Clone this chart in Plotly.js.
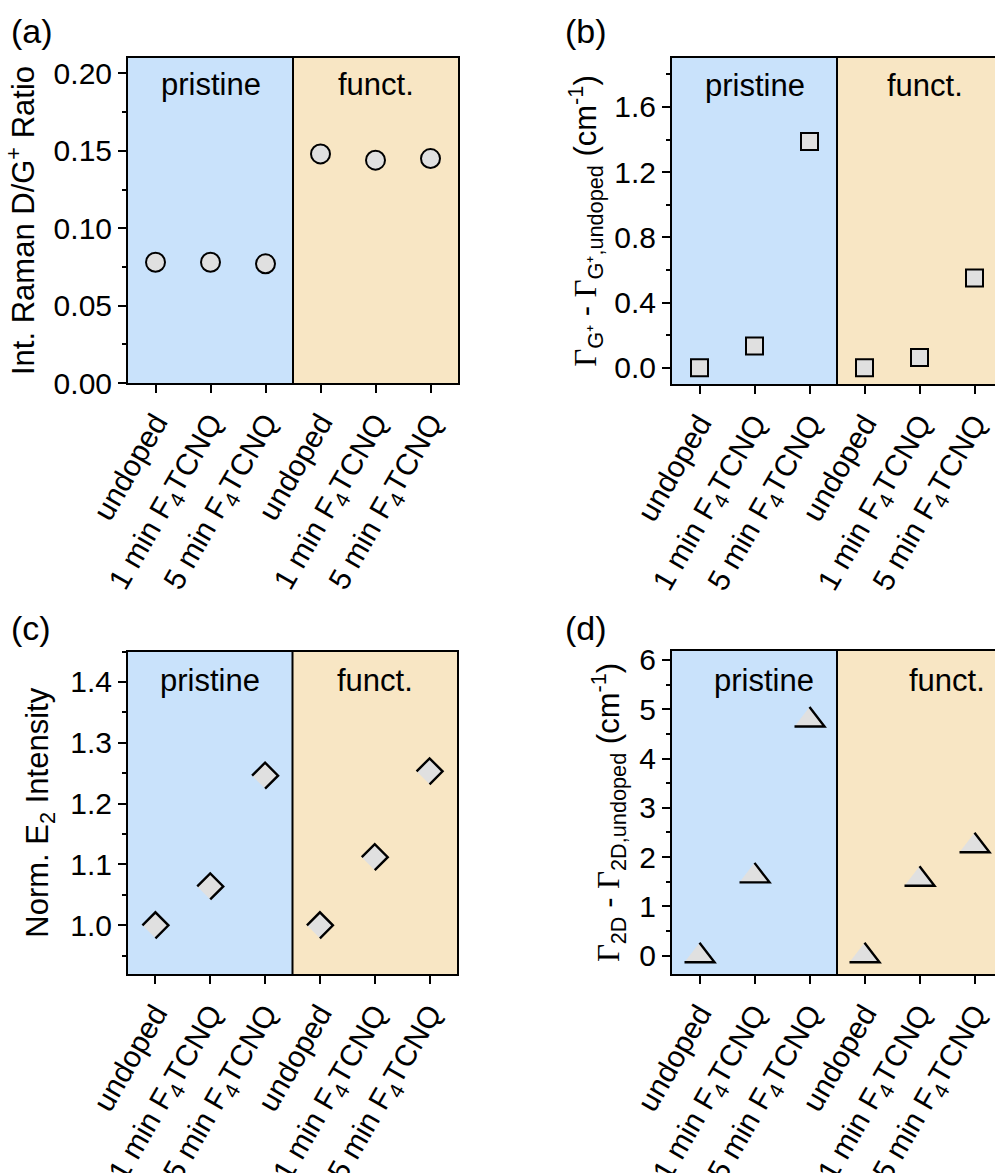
<!DOCTYPE html>
<html>
<head>
<meta charset="utf-8">
<script src="https://cdn.plot.ly/plotly-3.0.1.min.js"></script>
<style>
html,body{margin:0;padding:0;overflow:hidden;background:#fff;}
#chart{width:1010px;height:1173px;}
</style>
</head>
<body>
<div id="chart"></div>
<script>
// ---- data ----
const xIndex = [0, 1, 2, 3, 4, 5];
const tickLabels = ['undoped', '1 min F<sub>4</sub>TCNQ', '5 min F<sub>4</sub>TCNQ',
                    'undoped', '1 min F<sub>4</sub>TCNQ', '5 min F<sub>4</sub>TCNQ'];
const groupLabels = ['pristine', 'funct.'];
const ratioDG = [0.078, 0.078, 0.077, 0.148, 0.144, 0.145];
const deltaGammaG = [0.0, 0.133, 1.388, 0.0, 0.062, 0.551];
const normE2 = [1.0, 1.064, 1.246, 1.0, 1.112, 1.253];
const deltaGamma2D = [0.0, 1.62, 4.78, 0.0, 1.55, 2.23];

// ---- layout helpers ----
const W = 1010, H = 1173;
const px = v => v / W;
const py = v => 1 - v / H;
const FONT = 'Arial, "Liberation Sans", sans-serif';
const SERIF = 'Liberation Serif';
const BLUE = '#c9e2fb', TAN = '#f8e6c4', MFILL = '#e0e0e0';
const FS = 30;

function xaxis(domain, anchor) {
  return {
    domain: domain, anchor: anchor, range: [-0.5, 5.5],
    tickmode: 'array', tickvals: xIndex, ticktext: tickLabels, tickangle: -60,
    showline: true, linewidth: 2, linecolor: 'black', mirror: true,
    ticks: 'outside', ticklen: 8, tickwidth: 2, tickcolor: 'black',
    showgrid: false, zeroline: false, fixedrange: true,
    tickfont: {size: FS, color: 'black', family: FONT}
  };
}
function yaxis(domain, anchor, range, dtick, fmt, minor, title, tsize, standoff) {
  return {
    domain: domain, anchor: anchor, range: range,
    tick0: 0, dtick: dtick, tickformat: fmt,
    showline: true, linewidth: 2, linecolor: 'black', mirror: true,
    ticks: 'outside', ticklen: 8, tickwidth: 2, tickcolor: 'black',
    minor: {dtick: minor, tick0: 0, ticks: 'outside', ticklen: 4, tickwidth: 2, tickcolor: 'black', showgrid: false},
    showgrid: false, zeroline: false, fixedrange: true,
    tickfont: {size: FS, color: 'black', family: FONT},
    title: {text: title, font: {size: tsize, color: 'black', family: FONT}, standoff: standoff}
  };
}

const traces = [
  {x: xIndex, y: ratioDG, xaxis: 'x', yaxis: 'y', type: 'scatter', mode: 'markers',
   marker: {symbol: 'circle', size: 19, color: MFILL, line: {color: 'black', width: 2}}},
  {x: xIndex, y: deltaGammaG, xaxis: 'x2', yaxis: 'y2', type: 'scatter', mode: 'markers',
   marker: {symbol: 'square', size: 17, color: MFILL, line: {color: 'black', width: 2}}},
  {x: xIndex, y: normE2, xaxis: 'x3', yaxis: 'y3', type: 'scatter', mode: 'markers',
   marker: {symbol: 'diamond', size: 20, color: MFILL, line: {width: 0}}},
  {x: xIndex, y: deltaGamma2D, xaxis: 'x4', yaxis: 'y4', type: 'scatter', mode: 'markers',
   marker: {symbol: 'triangle-up', size: 26, color: MFILL, line: {width: 0}}}
];

const shapes = [];
const annotations = [];
const panels = [
  {xr: 'x', yr: 'y', lab: '(a)', lx: 9, ly: 31, ty: 0.917, off: [0, 0]},
  {xr: 'x2', yr: 'y2', lab: '(b)', lx: 563, ly: 31, ty: 0.917, off: [0, 0.1]},
  {xr: 'x3', yr: 'y3', lab: '(c)', lx: 9, ly: 628, ty: 0.91, off: [0, 0]},
  {xr: 'x4', yr: 'y4', lab: '(d)', lx: 563, ly: 628, ty: 0.91, off: [0.18, 0.5]}
];
panels.forEach(p => {
  shapes.push({type: 'rect', layer: 'below', xref: p.xr, yref: p.yr + ' domain',
               x0: -0.5, x1: 2.5, y0: 0, y1: 1, fillcolor: BLUE, line: {width: 0}});
  shapes.push({type: 'rect', layer: 'below', xref: p.xr, yref: p.yr + ' domain',
               x0: 2.5, x1: 5.5, y0: 0, y1: 1, fillcolor: TAN, line: {width: 0}});
  shapes.push({type: 'line', layer: 'below', xref: p.xr, yref: p.yr + ' domain',
               x0: 2.5, x1: 2.5, y0: 0, y1: 1, line: {color: 'black', width: 2}});
  annotations.push({xref: p.xr, yref: p.yr + ' domain', x: 1 + p.off[0], y: p.ty, text: groupLabels[0],
                    showarrow: false, xanchor: 'center', yanchor: 'middle',
                    font: {size: 31, color: 'black', family: FONT}});
  annotations.push({xref: p.xr, yref: p.yr + ' domain', x: 4 + p.off[1], y: p.ty, text: groupLabels[1],
                    showarrow: false, xanchor: 'center', yanchor: 'middle',
                    font: {size: 31, color: 'black', family: FONT}});
  annotations.push({xref: 'paper', yref: 'paper', x: px(p.lx), y: py(p.ly), text: p.lab,
                    showarrow: false, xanchor: 'left', yanchor: 'middle',
                    font: {size: 34, color: 'black', family: FONT}});
});

// partial outlines of diamond and triangle markers, anchored at the data values
normE2.forEach((v, i) => {
  shapes.push({type: 'path', xref: 'x3', yref: 'y3', xsizemode: 'pixel', ysizemode: 'pixel',
               xanchor: xIndex[i], yanchor: v, path: 'M-13,0 L0,13 L13,0 L0,-13',
               line: {color: 'black', width: 2.4}, layer: 'above'});
});
deltaGamma2D.forEach((v, i) => {
  shapes.push({type: 'path', xref: 'x4', yref: 'y4', xsizemode: 'pixel', ysizemode: 'pixel',
               xanchor: xIndex[i], yanchor: v, path: 'M-15,-6.5 L15,-6.5 L0,13',
               line: {color: 'black', width: 2.4}, layer: 'above'});
});

const G = '<span style="font-family:' + SERIF + '">Γ</span>';
const layout = {
  width: W, height: H, margin: {l: 0, r: 0, t: 0, b: 0},
  paper_bgcolor: 'white', plot_bgcolor: 'white', showlegend: false,
  font: {family: FONT, color: 'black'},
  xaxis: xaxis([px(128), px(458)], 'y'),
  yaxis: yaxis([py(383), py(58)], 'x', [0, 0.21], 0.05, '.2f', 0.025,
               'Int. Raman D/G<sup>+</sup> Ratio', 31, 10),
  xaxis2: xaxis([px(672), px(1002)], 'y2'),
  yaxis2: yaxis([py(384), py(58)], 'x2', [-0.1, 1.9], 0.4, '.1f', 0.2,
                G + '<sub>G⁺</sub> - ' + G + '<sub>G⁺,undoped</sub> (cm<sup>-1</sup>)', 31, 8),
  xaxis3: xaxis([px(128), px(457)], 'y3'),
  yaxis3: yaxis([py(974), py(651.5)], 'x3', [0.92, 1.45], 0.1, '.1f', 0.05,
                'Norm. E<sub>2</sub> Intensity', 31, 12),
  xaxis4: xaxis([px(672), px(1002)], 'y4'),
  yaxis4: yaxis([py(974), py(651)], 'x4', [-0.37, 6.18], 1, 'd', 0.5,
                G + '<sub>2D</sub> - ' + G + '<sub>2D,undoped</sub> (cm<sup>-1</sup>)', 31, 10),
  shapes: shapes,
  annotations: annotations
};

Plotly.newPlot('chart', traces, layout, {staticPlot: true, displayModeBar: false});
</script>
</body>
</html>
